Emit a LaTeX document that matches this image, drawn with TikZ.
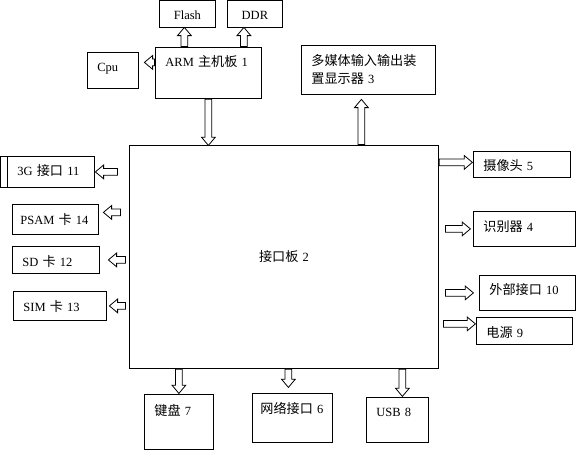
\documentclass[tikz,border=0pt]{standalone}
\usepackage{fontspec}
\setmainfont{Liberation Serif}
\newfontfamily\cjk[Scale=1.05]{Noto Sans CJK SC}
\newcommand{\zh}[1]{{\cjk #1}}
\usetikzlibrary{shapes.arrows, calc}
\tikzset{
  box/.style={draw, line width=.8pt, anchor=north west, inner xsep=10pt, inner ysep=0pt, align=left},
  blkarr/.style={single arrow, draw, line width=.8pt, fill=white, inner xsep=0pt, inner ysep=3pt,
    single arrow head extend=3.5pt, single arrow tip angle=80},
  blk/.style={to path={let \p1=(\tikztostart), \p2=(\tikztotarget) in
    (\tikztostart) node[blkarr, anchor=tail, minimum height={veclen(\x2-\x1,\y2-\y1)},
      rotate={atan2(\y2-\y1,\x2-\x1)}] {} (\tikztotarget)}}
}
\begin{document}
\begin{tikzpicture}[x=1pt, y=-1pt, font=\fontsize{12.5}{18}\selectfont]
        \useasboundingbox (0,0) rectangle (576,450);
        \node[box, align=center, text width=36pt, text height=19pt, text depth=8pt] (flash) at (159,0) {Flash};
        \node[box, align=center, text width=35pt, text height=19pt, text depth=8pt] (ddr) at (227,0) {DDR};
        \node[box, text width=31pt, text height=19pt, text depth=17pt] (cpu) at (87,52) {Cpu};
        \node[box, text width=86pt, text height=19pt, text depth=32pt] (arm) at (155,47) {ARM \zh{主机板} 1};
        \node[box, text width=114pt, minimum height=49pt] (mm) at (301,45) {\zh{多媒体输入输出装}\\\zh{置显示器} 3};
        \node[box, align=center, text width=289pt, minimum height=223pt] (intf) at (129,145) {\zh{接口板} 2};

        \node[box, text width=67pt, text height=19pt, text depth=12pt] (g3) at (7,156) {3G \zh{接口} 11};
        \draw[line width=.8pt] (g3.north west) -- ++(-6.5,0) |- (g3.south west);
        \node[box, inner xsep=8pt, text width=70pt, text height=20pt, text depth=10pt] (psam) at (12,204) {PSAM \zh{卡} 14};
        \node[box, text width=67pt, text height=20pt, text depth=7pt] (sd) at (12,246) {SD \zh{卡} 12};
        \node[box, text width=73pt, text height=20pt, text depth=9pt] (sim) at (13,291) {SIM \zh{卡} 13};

        \node[box, text width=77pt, text height=19pt, text depth=7pt] (cam) at (473,151) {\zh{摄像头} 5};
        \node[box, text width=82pt, text height=20pt, text depth=15pt] (rec) at (473,211) {\zh{识别器} 4};
        \node[box, text width=76pt, text height=19pt, text depth=16pt] (ext) at (479,275) {\zh{外部接口} 10};
        \node[box, text width=76pt, text height=20pt, text depth=7pt] (pwr) at (476,317) {\zh{电源} 9};

        \node[box, text width=49pt, text height=21pt, text depth=34pt] (kbd) at (144,394) {\zh{键盘} 7};
        \node[box, inner xsep=8pt, text width=64pt, text height=20pt, text depth=29pt] (net) at (252,393) {\zh{网络接口} 6};
        \node[box, text width=42pt, text height=19pt, text depth=26pt] (usb) at (366,397) {USB 8};

        \coordinate (flashin) at ([xshift=-3pt]flash.south);
        \coordinate (ddrin) at ([xshift=-11pt]ddr.south);
        \coordinate (cpuin) at ([xshift=6pt, yshift=8pt]cpu.east);
        \coordinate (mmin) at ([xshift=-7pt, yshift=-5pt]mm.south);
        \draw[blk] (arm.south) to (arm.south |- intf.north);
        \draw[blk] (arm.north -| flashin) to (flashin);
        \draw[blk] (arm.north -| ddrin) to (ddrin);
        \draw[blk] (arm.west |- cpuin) to (cpuin);
        \draw[blk] (intf.north -| mmin) to (mmin);

        \coordinate (g3in) at ([xshift=1pt]g3.east);
        \coordinate (g3out) at ([xshift=23pt]g3.east);
        \coordinate (psamin) at ([xshift=5pt, yshift=7pt]psam.east);
        \coordinate (psamout) at ([xshift=22pt, yshift=7pt]psam.east);
        \coordinate (sdin) at ([xshift=9pt]sd.east);
        \coordinate (sdout) at ([xshift=26pt]sd.east);
        \coordinate (simin) at ([xshift=3pt]sim.east);
        \coordinate (simout) at ([xshift=19pt]sim.east);
        \draw[blk] (g3out) to (g3in);
        \draw[blk] (psamout) to (psamin);
        \draw[blk] (sdout) to (sdin);
        \draw[blk] (simout) to (simin);

        \coordinate (camin) at ([xshift=-1pt, yshift=2pt]cam.west);
        \coordinate (recin) at ([xshift=-3pt]rec.west);
        \coordinate (recout) at ([xshift=-28pt]rec.west);
        \coordinate (extin) at ([xshift=-6pt]ext.west);
        \coordinate (extout) at ([xshift=-34pt]ext.west);
        \coordinate (pwrin) at ([xshift=-1pt, yshift=7pt]pwr.west);
        \coordinate (pwrout) at ([xshift=-33pt, yshift=7pt]pwr.west);
        \draw[blk] (intf.east |- camin) to (camin);
        \draw[blk] (recout) to (recin);
        \draw[blk] (extout) to (extin);
        \draw[blk] (pwrout) to (pwrin);

        \coordinate (kbdin) at ([yshift=1pt]kbd.north);
        \coordinate (netin) at ([xshift=-4pt, yshift=6pt]net.north);
        \coordinate (usbin) at ([xshift=5pt, yshift=1pt]usb.north);
        \draw[blk] (intf.south -| kbdin) to (kbdin);
        \draw[blk] (intf.south -| netin) to (netin);
        \draw[blk] (intf.south -| usbin) to (usbin);
\end{tikzpicture}
\end{document}
